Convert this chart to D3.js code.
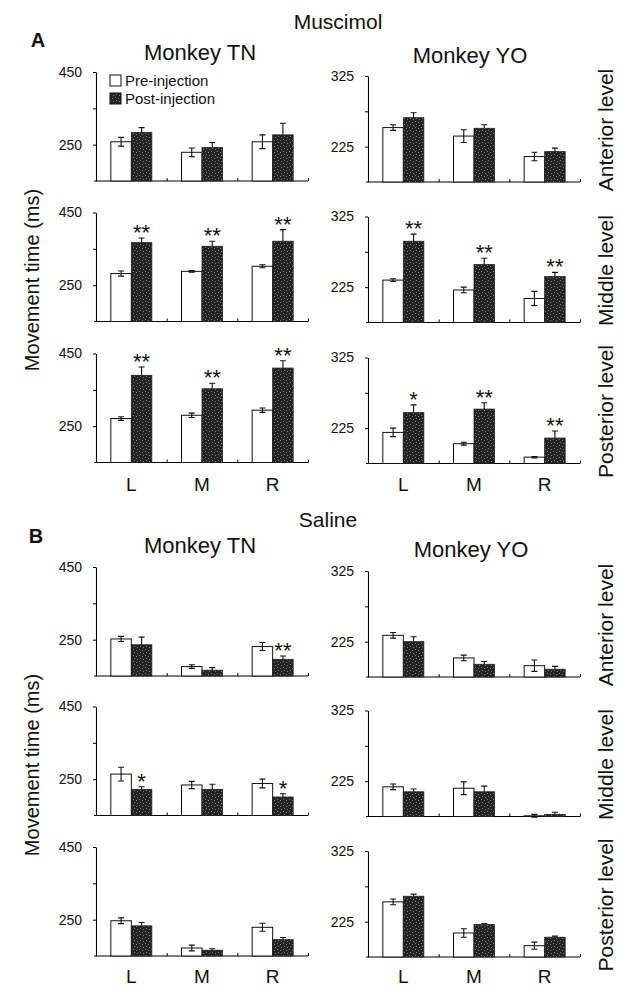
<!DOCTYPE html>
<html>
<head>
<meta charset="utf-8">
<script src="https://cdn.jsdelivr.net/npm/d3@7"></script>
<style>
  body { margin: 0; background: #fff; }
  svg text { font-family: "Liberation Sans", Arial, sans-serif; fill: #111; }
</style>
</head>
<body>
<svg id="fig" width="623" height="988"></svg>
<script>
var sides = ['L', 'M', 'R'];
var levels = ['Anterior level', 'Middle level', 'Posterior level'];
var tnTicks = [250, 350, 450];
var yoTicks = [225, 275, 325];

// Muscimol, monkey TN (rows = anterior, middle, posterior; cols = L, M, R)
var muscTNPre     = [[258, 229, 258], [282, 288, 302], [271, 280, 294]];
var muscTNPreErr  = [[12, 12, 19], [7, 2, 4], [5, 6, 6]];
var muscTNPost    = [[284, 242, 277], [367, 357, 371], [390, 353, 410]];
var muscTNPostErr = [[13, 14, 32], [13, 14, 32], [23, 15, 20]];
var muscTNStars   = [['', '', ''], ['**', '**', '**'], ['**', '**', '**']];

// Muscimol, monkey YO
var muscYOPre     = [[252, 240, 211], [235, 221, 209], [219, 203, 184]];
var muscYOPreErr  = [[4, 9, 6], [2, 4, 10], [6, 2, 1]];
var muscYOPost    = [[266, 251, 218], [290, 257, 240], [247, 252, 211]];
var muscYOPostErr = [[7, 5, 5], [10, 9, 6], [11, 9, 10]];
var muscYOStars   = [['', '', ''], ['**', '**', '**'], ['*', '**', '**']];

// Saline, monkey TN
var salTNPre     = [[252, 176, 231], [264, 234, 238], [247, 172, 229]];
var salTNPreErr  = [[7, 5, 11], [19, 10, 12], [8, 8, 11]];
var salTNPost    = [[236, 166, 196], [222, 222, 201], [233, 166, 195]];
var salTNPostErr = [[21, 7, 9], [7, 14, 9], [9, 4, 6]];
var salTNStars   = [['', '', '**'], ['*', '', '*'], ['', '', '']];

// Saline, monkey YO
var salYOPre     = [[234, 202, 191], [217, 215, 176], [253, 209, 191]];
var salYOPreErr  = [[4, 4, 8], [4, 9, 2], [4, 6, 5]];
var salYOPost    = [[225, 193, 186], [210, 210, 178], [261, 221, 203]];
var salYOPostErr = [[7, 4, 4], [4, 8, 3], [3, 1.5, 1.5]];
var salYOStars   = [['', '', ''], ['', '', ''], ['', '', '']];

var svg = d3.select('#fig');

// speckled dark fill
var pat = svg.append('defs').append('pattern')
	.attr('id', 'dark').attr('width', 6).attr('height', 6)
	.attr('patternUnits', 'userSpaceOnUse');
pat.append('rect').attr('width', 6).attr('height', 6).attr('fill', '#242424');
[[1, 1], [4, 2], [2, 4], [5, 5]].forEach(function(p){
	pat.append('rect').attr('x', p[0]).attr('y', p[1]).attr('width', 1).attr('height', 1).attr('fill', '#7a7a7a');
});

var panelW = 212;

function drawPanel(x0, top, h, domain, ticks, pre, preErr, post, postErr, stars){
	var g = svg.append('g');
	var y = d3.scaleLinear().domain(domain).range([top + h, top]);
	var x = d3.scaleBand().domain(sides).range([x0, x0 + panelW]);
	var sub = d3.scaleBand().domain(['pre', 'post']).range([0, 41]);
	var off = (x.bandwidth() - 41) / 2;

	// y axis
	var ya = g.append('g').attr('transform', 'translate(' + x0 + ',0)')
		.call(d3.axisLeft(y).tickValues(ticks).tickSizeOuter(0).tickSizeInner(3).tickPadding(11)
			.tickFormat(function(d, i){ return i == 1 ? '' : d; }));
	ya.selectAll('text').attr('font-size', 14);
	ya.select('.domain').attr('stroke-width', 1.1);

	// x axis with upward ticks at category boundaries
	var xb = d3.scaleLinear().domain([0, 3]).range([x0, x0 + panelW]);
	var xa = g.append('g').attr('transform', 'translate(0,' + (top + h) + ')')
		.call(d3.axisBottom(xb).tickValues([1, 2, 3]).tickSize(-3).tickSizeOuter(0).tickFormat(''));
	xa.select('.domain').attr('d', 'M' + (x0 - 2) + ',0H' + (x0 + panelW)).attr('stroke-width', 1.1);

	sides.forEach(function(s, i){
		var px = x(s) + off + sub('pre');
		var qx = x(s) + off + sub('post');
		var bw = sub.bandwidth();
		g.append('rect').attr('x', px).attr('y', y(pre[i])).attr('width', bw)
			.attr('height', y(domain[0]) - y(pre[i])).attr('fill', '#fff').attr('stroke', '#111').attr('stroke-width', 1);
		g.append('rect').attr('x', qx).attr('y', y(post[i])).attr('width', bw)
			.attr('height', y(domain[0]) - y(post[i])).attr('fill', 'url(#dark)').attr('stroke', '#222').attr('stroke-width', 0.8);

		// pre error bar: both ways
		var cx = px + bw / 2;
		g.append('path').attr('fill', 'none').attr('stroke', '#111').attr('stroke-width', 1.1)
			.attr('d', 'M' + cx + ',' + y(pre[i] - preErr[i]) + 'V' + y(pre[i] + preErr[i]) +
				'M' + (cx - 3) + ',' + y(pre[i] + preErr[i]) + 'h6' +
				'M' + (cx - 3) + ',' + y(pre[i] - preErr[i]) + 'h6');
		// post error bar: upward only
		var qc = qx + bw / 2;
		g.append('path').attr('fill', 'none').attr('stroke', '#111').attr('stroke-width', 1.1)
			.attr('d', 'M' + qc + ',' + y(post[i]) + 'V' + y(post[i] + postErr[i]) +
				'M' + (qc - 3) + ',' + y(post[i] + postErr[i]) + 'h6');

		if(stars[i]){
			g.append('text').attr('x', qc).attr('y', y(post[i] + postErr[i]) + 2)
				.attr('text-anchor', 'middle').attr('font-size', 22).text(stars[i]);
		}
	});
}

function drawSection(tops, tn, yo){
	for(var r = 0; r < 3; r++){
		drawPanel(96, tops[r], 109, [150, 450], tnTicks, tn[0][r], tn[1][r], tn[2][r], tn[3][r], tn[4][r]);
		drawPanel(368, tops[r] + 4, 106, [175, 325], yoTicks, yo[0][r], yo[1][r], yo[2][r], yo[3][r], yo[4][r]);
		svg.append('text').attr('transform', 'translate(613,' + (tops[r] + 58) + ') rotate(-90)')
			.attr('text-anchor', 'middle').attr('font-size', 21).text(levels[r]);
	}
}

drawSection([72, 212.5, 353.5],
	[muscTNPre, muscTNPreErr, muscTNPost, muscTNPostErr, muscTNStars],
	[muscYOPre, muscYOPreErr, muscYOPost, muscYOPostErr, muscYOStars]);
drawSection([567, 706.5, 847],
	[salTNPre, salTNPreErr, salTNPost, salTNPostErr, salTNStars],
	[salYOPre, salYOPreErr, salYOPost, salYOPostErr, salYOStars]);

// titles
function label(txt, x, y, size, weight){
	return svg.append('text').attr('x', x).attr('y', y).attr('text-anchor', 'middle')
		.attr('font-size', size).attr('font-weight', weight || 'normal').text(txt);
}
label('Muscimol', 338, 29, 21);
label('Saline', 328, 527, 21);
label('Monkey TN', 200, 60, 22);
label('Monkey YO', 470, 63, 22);
label('Monkey TN', 200, 553, 22);
label('Monkey YO', 471, 557, 22);
label('A', 38, 47, 20, 'bold');
label('B', 36, 543, 20, 'bold');

// side labels L M R
[491, 983].forEach(function(yy){
	var xt = d3.scaleBand().domain(sides).range([96, 96 + panelW]);
	var xy = d3.scaleBand().domain(sides).range([368, 368 + panelW]);
	sides.forEach(function(s){
		label(s, xt(s) + xt.bandwidth() / 2, yy, 19);
		label(s, xy(s) + xy.bandwidth() / 2, yy, 19);
	});
});

// y titles
[280, 765].forEach(function(cy){
	svg.append('text').attr('transform', 'translate(39,' + cy + ') rotate(-90)')
		.attr('text-anchor', 'middle').attr('font-size', 20).text('Movement time (ms)');
});

// legend
var leg = svg.append('g');
[['Pre-injection', '#fff'], ['Post-injection', 'url(#dark)']].forEach(function(d, i){
	leg.append('rect').attr('x', 110).attr('y', 75 + i * 18).attr('width', 11).attr('height', 11)
		.attr('fill', d[1]).attr('stroke', '#111').attr('stroke-width', 1);
	leg.append('text').attr('x', 125).attr('y', 86 + i * 18).attr('font-size', 15).text(d[0]);
});
</script>
</body>
</html>
